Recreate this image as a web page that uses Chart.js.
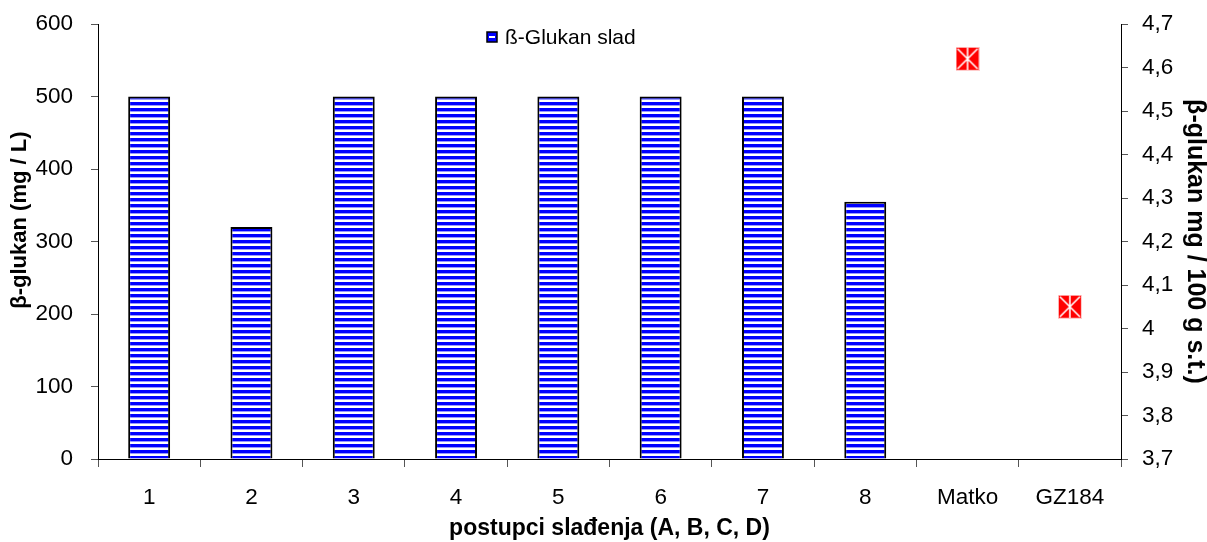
<!DOCTYPE html>
<html>
<head>
<meta charset="utf-8">
<script src="https://cdn.jsdelivr.net/npm/chart.js@4"></script>
<style>
  html, body { margin: 0; padding: 0; background: #fff; }
  #wrap { width: 1207px; height: 542px; }
</style>
</head>
<body>
<div id="wrap"><canvas id="chart" width="1207" height="542"></canvas></div>
<script>
const categories = ['1', '2', '3', '4', '5', '6', '7', '8', 'Matko', 'GZ184'];
const sladValues = [500, 320, 500, 500, 500, 500, 500, 355, null, null];
const sortValues = [null, null, null, null, null, null, null, null, 4.62, 4.05];
const leftTicks = [0, 100, 200, 300, 400, 500, 600];
const rightTicks = [3.7, 3.8, 3.9, 4.0, 4.1, 4.2, 4.3, 4.4, 4.5, 4.6, 4.7];

const FONT = "'Liberation Sans', Arial, sans-serif";

function stripePattern() {
    const c = document.createElement('canvas');
    c.width = 4; c.height = 6;
    const g = c.getContext('2d');
    g.fillStyle = '#ffffff'; g.fillRect(0, 0, 4, 6);
    g.fillStyle = '#0000ff'; g.fillRect(0, 0, 4, 3);
    g.fillStyle = '#9999ff'; g.fillRect(0, 3, 4, 1);
    return document.getElementById('chart').getContext('2d').createPattern(c, 'repeat');
}

function markerImage() {
    const c = document.createElement('canvas');
    c.width = 24; c.height = 24;
    const g = c.getContext('2d');
    g.fillStyle = '#ff0000'; g.fillRect(0, 0, 24, 24);
    g.strokeStyle = '#ffffff'; g.lineWidth = 1.6;
    g.beginPath();
    g.moveTo(2, 2); g.lineTo(22, 22);
    g.moveTo(22, 2); g.lineTo(2, 22);
    g.moveTo(12, 1); g.lineTo(12, 23);
    g.stroke();
    g.strokeStyle = '#ffcccc'; g.lineWidth = 1;
    g.strokeRect(0.5, 0.5, 23, 23);
    return c;
}

const legendPlugin = {
    id: 'legendBox',
    afterDraw(chart) {
        const ctx = chart.ctx;
        ctx.save();
        ctx.fillStyle = '#0000ff';
        ctx.fillRect(487, 32, 10, 10);
        ctx.fillStyle = '#ffffff';
        ctx.fillRect(489, 36, 6, 2);
        ctx.strokeStyle = '#000';
        ctx.lineWidth = 1.5;
        ctx.strokeRect(487, 32, 10, 10);
        ctx.fillStyle = '#000';
        ctx.font = '21px ' + FONT;
        ctx.textBaseline = 'middle';
        ctx.fillText(chart.data.datasets[0].label, 505, 38);
        ctx.restore();
    }
};

function noPadY(s, w) {
    s.width = w;
    s.paddingTop = 0;
    s.paddingBottom = 0;
}

new Chart(document.getElementById('chart'), {
    data: {
        labels: categories,
        datasets: [{
            type: 'bar',
            label: 'ß-Glukan slad',
            data: sladValues,
            backgroundColor: stripePattern(),
            borderColor: '#000',
            borderWidth: 2,
            categoryPercentage: 1,
            barPercentage: 0.41,
            yAxisID: 'y',
            order: 2
        }, {
            type: 'line',
            label: 'sorte',
            data: sortValues,
            showLine: false,
            pointStyle: markerImage(),
            pointRadius: 12,
            yAxisID: 'y2',
            order: 1
        }]
    },
    options: {
        responsive: false,
        animation: false,
        layout: { padding: { top: 24, left: 0, right: 0, bottom: 0 } },
        plugins: {
            legend: { display: false },
            tooltip: { enabled: false }
        },
        scales: {
            x: {
                offset: true,
                grid: { offset: true, drawOnChartArea: false, tickLength: 8, color: '#000', tickColor: '#555' },
                border: { color: '#000', width: 1 },
                ticks: { color: '#000', font: { family: FONT, size: 22.5 }, padding: 17, maxRotation: 0 },
                title: { display: true, text: 'postupci slađenja (A, B, C, D)', color: '#000', font: { family: FONT, size: 23, weight: 'bold', lineHeight: 1.1 }, padding: { top: 0, bottom: 1 } },
                afterFit(s) { s.height = 83; s.paddingLeft = 0; s.paddingRight = 0; }
            },
            y: {
                position: 'left',
                min: 0, max: 600,
                afterBuildTicks(s) { s.ticks = leftTicks.map(v => ({ value: v })); },
                grid: { drawOnChartArea: false, tickLength: 7, tickColor: '#555' },
                border: { color: '#000', width: 1 },
                ticks: { color: '#000', font: { family: FONT, size: 22.5 }, padding: 18 },
                title: { display: true, text: '\u00a0\u00a0\u00a0\u00a0\u00a0\u00a0\u00a0β-glukan (mg / L)', color: '#000', font: { family: FONT, size: 22, weight: 'bold', lineHeight: 1.1 }, padding: { top: 8, bottom: 0 } },
                afterFit(s) { noPadY(s, 98); }
            },
            y2: {
                position: 'right',
                min: 3.7, max: 4.7,
                afterBuildTicks(s) { s.ticks = rightTicks.map(v => ({ value: v })); },
                grid: { drawOnChartArea: false, tickLength: 7, tickColor: '#555' },
                border: { color: '#000', width: 1 },
                ticks: {
                    color: '#000', font: { family: FONT, size: 22.5 }, padding: 14,
                    callback: v => String(Number(v.toFixed(1))).replace('.', ',')
                },
                title: { display: true, text: 'β-glukan mg / 100 g s.t.)', color: '#000', font: { family: FONT, size: 25, weight: 'bold', lineHeight: 1.0 }, padding: { top: 0, bottom: 0 } },
                afterFit(s) { noPadY(s, 86); }
            }
        }
    },
    plugins: [legendPlugin]
});
</script>
</body>
</html>
